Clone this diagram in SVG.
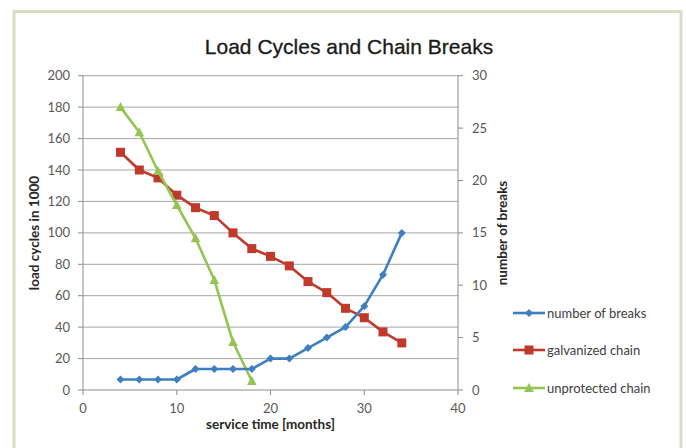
<svg xmlns="http://www.w3.org/2000/svg" width="686" height="448" viewBox="0 0 686 448">
  <style>
    .frame { fill: #ffffff; stroke: #dcdbc4; stroke-width: 3; }
    .grid { stroke: #a6a6a6; stroke-width: 1; fill: none; }
    .axis { stroke: #8c8c8c; stroke-width: 1; fill: none; }
    .title { font-family: "Liberation Sans", Arial, sans-serif; font-size: 21px; fill: #1a1a1a; stroke: #1a1a1a; stroke-width: 0.3; text-anchor: middle; }
    .tick { font-family: Lato, "Liberation Sans", sans-serif; font-size: 13px; fill: #595959; }
    .tl { text-anchor: end; }
    .tm { text-anchor: middle; }
    .axt { font-family: Lato, "Liberation Sans", sans-serif; font-size: 13.5px; font-weight: bold; fill: #262626; text-anchor: middle; }
    .leg { font-family: Lato, "Liberation Sans", sans-serif; font-size: 13px; fill: #404040; }
    .s-blue { stroke: #3d7fc1; stroke-width: 2.6; fill: none; stroke-linejoin: round; }
    .s-red { stroke: #c0392b; stroke-width: 2.6; fill: none; stroke-linejoin: round; }
    .s-green { stroke: #94c553; stroke-width: 2.6; fill: none; stroke-linejoin: round; }
  </style>
  <defs>
    <path id="diamond" d="M0,-4 L4,0 L0,4 L-4,0 Z" fill="#3d7fc1"/>
    <rect id="square" x="-4.5" y="-4.5" width="9" height="9" fill="#c0392b"/>
    <path id="tri" d="M0,-5 L4.8,4 L-4.8,4 Z" fill="#94c553"/>
  </defs>

  <!-- chart frame -->
  <rect class="frame" x="14" y="11.5" width="667" height="450"/>

  <!-- title -->
  <text class="title" x="349" y="54">Load Cycles and Chain Breaks</text>

  <!-- horizontal gridlines (every 20 on the left scale) -->
  <g id="gridlines" class="grid">
    <line x1="83" y1="75.7" x2="458" y2="75.7"/>
    <line x1="83" y1="107.1" x2="458" y2="107.1"/>
    <line x1="83" y1="138.6" x2="458" y2="138.6"/>
    <line x1="83" y1="170" x2="458" y2="170"/>
    <line x1="83" y1="201.4" x2="458" y2="201.4"/>
    <line x1="83" y1="232.9" x2="458" y2="232.9"/>
    <line x1="83" y1="264.3" x2="458" y2="264.3"/>
    <line x1="83" y1="295.7" x2="458" y2="295.7"/>
    <line x1="83" y1="327.1" x2="458" y2="327.1"/>
    <line x1="83" y1="358.6" x2="458" y2="358.6"/>
  </g>

  <!-- axes and tick marks -->
  <g id="axes" class="axis">
    <line x1="83" y1="75.7" x2="83" y2="390"/>
    <line x1="458" y1="75.7" x2="458" y2="390"/>
    <line x1="78" y1="390" x2="463" y2="390"/>
    <!-- left ticks -->
    <path d="M78,75.7H83M78,107.1H83M78,138.6H83M78,170H83M78,201.4H83M78,232.9H83M78,264.3H83M78,295.7H83M78,327.1H83M78,358.6H83"/>
    <!-- right ticks -->
    <path d="M458,75.7H463M458,128.1H463M458,180.5H463M458,232.9H463M458,285.2H463M458,337.6H463"/>
    <!-- bottom ticks -->
    <path d="M83,390V395M176.8,390V395M270.5,390V395M364.3,390V395M458,390V395"/>
  </g>

  <!-- left scale labels -->
  <g id="left-labels" class="tick tl">
    <text x="70" y="80.2">200</text>
    <text x="70" y="111.6">180</text>
    <text x="70" y="143.1">160</text>
    <text x="70" y="174.5">140</text>
    <text x="70" y="205.9">120</text>
    <text x="70" y="237.4">100</text>
    <text x="70" y="268.8">80</text>
    <text x="70" y="300.2">60</text>
    <text x="70" y="331.6">40</text>
    <text x="70" y="363.1">20</text>
    <text x="70" y="394.5">0</text>
  </g>

  <!-- right scale labels -->
  <g id="right-labels" class="tick">
    <text x="472" y="80.2">30</text>
    <text x="472" y="132.6">25</text>
    <text x="472" y="185">20</text>
    <text x="472" y="237.4">15</text>
    <text x="472" y="289.7">10</text>
    <text x="472" y="342.1">5</text>
    <text x="472" y="394.5">0</text>
  </g>

  <!-- bottom scale labels -->
  <g id="bottom-labels" class="tick tm">
    <text x="83" y="413">0</text>
    <text x="176.8" y="413">10</text>
    <text x="270.5" y="413">20</text>
    <text x="364.3" y="413">30</text>
    <text x="458" y="413">40</text>
  </g>

  <!-- axis titles -->
  <text class="axt" x="270.5" y="429">service time [months]</text>
  <text class="axt" transform="translate(39,233) rotate(-90)">load cycles in 1000</text>
  <text class="axt" transform="translate(507,233) rotate(-90)">number of breaks</text>

  <!-- data series -->
  <g id="series">
    <g id="galvanized">
      <polyline class="s-red" points="120.5,152.3 139.3,170 158,177.9 176.8,195.2 195.5,207.7 214.3,215.6 233,232.9 251.8,248.6 270.5,256.4 289.3,265.9 308,281.6 326.8,292.6 345.5,308.3 364.3,317.7 383,331.9 401.8,342.9"/>
      <use href="#square" x="120.5" y="152.3"/>
      <use href="#square" x="139.3" y="170"/>
      <use href="#square" x="158" y="177.9"/>
      <use href="#square" x="176.8" y="195.2"/>
      <use href="#square" x="195.5" y="207.7"/>
      <use href="#square" x="214.3" y="215.6"/>
      <use href="#square" x="233" y="232.9"/>
      <use href="#square" x="251.8" y="248.6"/>
      <use href="#square" x="270.5" y="256.4"/>
      <use href="#square" x="289.3" y="265.9"/>
      <use href="#square" x="308" y="281.6"/>
      <use href="#square" x="326.8" y="292.6"/>
      <use href="#square" x="345.5" y="308.3"/>
      <use href="#square" x="364.3" y="317.7"/>
      <use href="#square" x="383" y="331.9"/>
      <use href="#square" x="401.8" y="342.9"/>
    </g>
    <g id="unprotected">
      <polyline class="s-green" points="120.5,107.1 139.3,132.3 158,171 176.8,205 195.5,238.3 214.3,280 233,342 251.8,381"/>
      <use href="#tri" x="120.5" y="107.1"/>
      <use href="#tri" x="139.3" y="132.3"/>
      <use href="#tri" x="158" y="171"/>
      <use href="#tri" x="176.8" y="205"/>
      <use href="#tri" x="195.5" y="238.3"/>
      <use href="#tri" x="214.3" y="280"/>
      <use href="#tri" x="233" y="342"/>
      <use href="#tri" x="251.8" y="381"/>
    </g>
    <g id="breaks">
      <polyline class="s-blue" points="120.5,379.5 139.3,379.5 158,379.5 176.8,379.5 195.5,369 214.3,369 233,369 251.8,369 270.5,358.6 289.3,358.6 308,348.1 326.8,337.6 345.5,327.1 364.3,306.2 383,274.7 401.8,232.9"/>
      <use href="#diamond" x="120.5" y="379.5"/>
      <use href="#diamond" x="139.3" y="379.5"/>
      <use href="#diamond" x="158" y="379.5"/>
      <use href="#diamond" x="176.8" y="379.5"/>
      <use href="#diamond" x="195.5" y="369"/>
      <use href="#diamond" x="214.3" y="369"/>
      <use href="#diamond" x="233" y="369"/>
      <use href="#diamond" x="251.8" y="369"/>
      <use href="#diamond" x="270.5" y="358.6"/>
      <use href="#diamond" x="289.3" y="358.6"/>
      <use href="#diamond" x="308" y="348.1"/>
      <use href="#diamond" x="326.8" y="337.6"/>
      <use href="#diamond" x="345.5" y="327.1"/>
      <use href="#diamond" x="364.3" y="306.2"/>
      <use href="#diamond" x="383" y="274.7"/>
      <use href="#diamond" x="401.8" y="232.9"/>
    </g>
  </g>

  <!-- legend -->
  <g id="legend">
    <g id="legend-breaks">
      <line class="s-blue" x1="513" y1="313" x2="545" y2="313"/>
      <use href="#diamond" x="529" y="313"/>
      <text class="leg" x="547" y="317.5">number of breaks</text>
    </g>
    <g id="legend-galvanized">
      <line class="s-red" x1="513" y1="350" x2="545" y2="350"/>
      <use href="#square" x="529" y="350"/>
      <text class="leg" x="547" y="354.5">galvanized chain</text>
    </g>
    <g id="legend-unprotected">
      <line class="s-green" x1="513" y1="388" x2="545" y2="388"/>
      <use href="#tri" x="529" y="388"/>
      <text class="leg" x="547" y="392.5">unprotected chain</text>
    </g>
  </g>
</svg>
